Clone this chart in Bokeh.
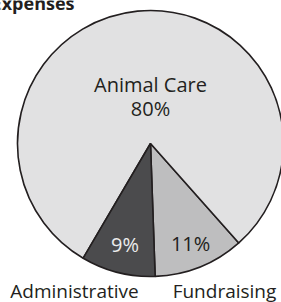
import math
from bokeh.plotting import figure
from bokeh.models import Range1d, ColumnDataSource
from bokeh.core.properties import value
from bokeh.embed import file_html
from bokeh.resources import INLINE

# ---- data ----
title = "Expenses"
categories = ["Fundraising", "Animal Care", "Administrative"]
percents = [11, 80, 9]
slice_colors = ["#bebebf", "#e1e1e2", "#4b4b4d"]
label_colors = ["#231f20", "#231f20", "#ececec"]
outside_labels = ["Administrative", "Fundraising"]

W, H = 281, 302
CX, CY, R = 150, 302 - 143, 133
START = math.radians(-88)

p = figure(width=W, height=H, output_backend="svg", toolbar_location=None,
           x_range=Range1d(0, W), y_range=Range1d(0, H), min_border=0)
p.axis.visible = False
p.grid.visible = False
p.outline_line_color = None
p.background_fill_color = "white"
p.border_fill_color = "white"

total = sum(percents)
starts, ends = [], []
a = START
for v in percents:
    starts.append(a)
    a += 2 * math.pi * v / total
    ends.append(a)
mids = [(s + e) / 2 for s, e in zip(starts, ends)]

src = ColumnDataSource(dict(cat=categories, pct=percents, start=starts, end=ends,
                            color=slice_colors))
p.wedge(x=CX, y=CY, radius=R, start_angle="start", end_angle="end",
        fill_color="color", line_color="#231f20", line_width=1.6, source=src)

font = value("Open Sans")
# small slice labels inside
lab_r = [108, 0, 104]
for i, cat in enumerate(categories):
    if cat == "Animal Care":
        continue
    x = CX + lab_r[i] * math.cos(mids[i])
    y = CY + lab_r[i] * math.sin(mids[i])
    p.text(x=[x], y=[y], text=[f"{percents[i]}%"], text_font=font,
           text_font_size="20px", text_color=label_colors[i],
           text_align="center", text_baseline="middle")

# large slice label
i = categories.index("Animal Care")
p.text(x=[CX], y=[CY + 59], text=[categories[i]], text_font=font,
       text_font_size="20px", text_color=label_colors[i],
       text_align="center", text_baseline="middle")
p.text(x=[CX], y=[CY + 35], text=[f"{percents[i]}%"], text_font=font,
       text_font_size="20px", text_color=label_colors[i],
       text_align="center", text_baseline="middle")

# outside labels
p.text(x=[74, 224], y=[H - 290, H - 290], text=outside_labels,
       text_font=font, text_font_size="19px", text_color="#231f20",
       text_align="center", text_baseline="middle")

# title (partly cut off like the reference)
p.text(x=[74], y=[H - 2], text=[title], text_font=font, text_font_style="bold",
       text_font_size="18px", text_color="#231f20",
       text_align="right", text_baseline="middle")

open("out.html", "w").write(file_html(p, INLINE))
